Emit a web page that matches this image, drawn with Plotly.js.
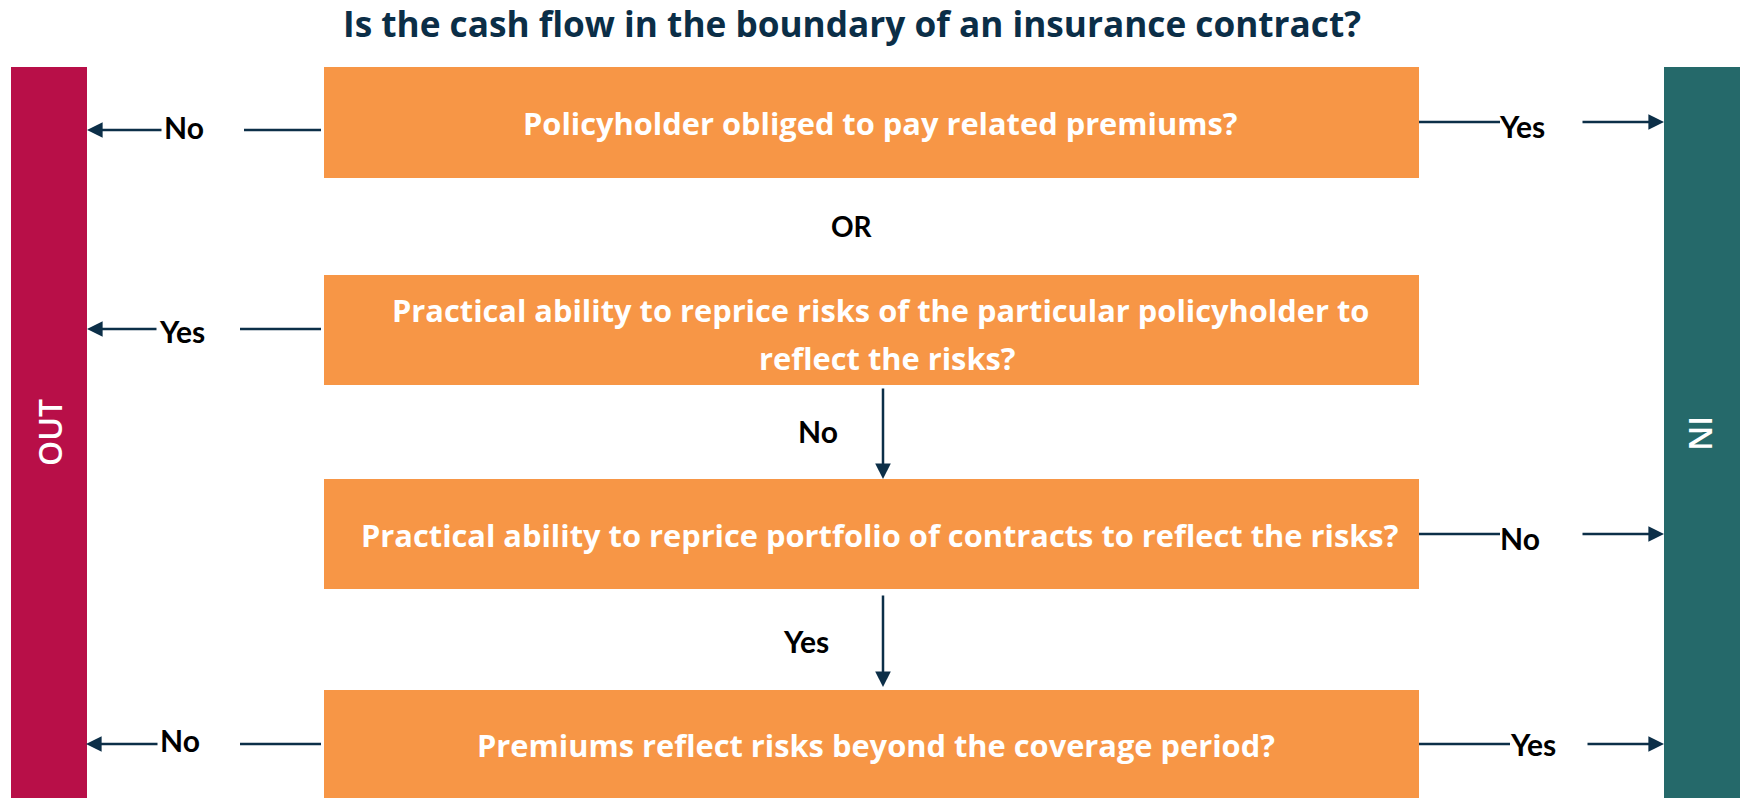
<!DOCTYPE html>
<html>
<head>
<meta charset="utf-8">
<script src="https://cdn.plot.ly/plotly-3.0.1.min.js"></script>
<style>
  html, body { margin: 0; padding: 0; background: #ffffff; }
  #chart { width: 1740px; height: 798px; }
</style>
</head>
<body>
<div id="chart"></div>
<script>
// ---- content ----
const chartTitle = "Is the cash flow in the boundary of an insurance contract?";
const questions = [
  "Policyholder obliged to pay related premiums?",
  "Practical ability to reprice risks of the particular policyholder to<br>reflect the risks?",
  "Practical ability to reprice portfolio of contracts to reflect the risks?",
  "Premiums reflect risks beyond the coverage period?"
];
const outcomes = ["OUT", "IN"];
const connectorWord = "OR";
// edge labels
const leftEdgeLabels = ["No", "Yes", "No"];      // box 1, box 2, box 4 -> OUT
const rightEdgeLabels = ["Yes", "No", "Yes"];    // box 1, box 3, box 4 -> IN
const downEdgeLabels = ["No", "Yes"];            // box 2 -> box 3, box 3 -> box 4

// ---- geometry (layout only) ----
const W = 1740, H = 798;
const C = { orange: "#F79646", out: "#B80F48", inn: "#25696A", arrow: "#0C2F48", title: "#0B2E47" };
const bars = [{ x0: 11, x1: 87 }, { x0: 1664, x1: 1740 }];
const barY = [67, 798];
const boxX = [324, 1419];
const boxY = [[67, 178], [275, 385], [479, 589], [690, 798]];
const boxTextX = [[880], [880, 887], [879], [876]];
const boxTextY = [[123], [310, 358], [535], [745]];
const leftGeo = [
  { y: 130, lineFrom: 321, lineTo: 244, arrowFrom: 163, arrowTo: 87, lx: 184, ly: 127 },
  { y: 329, lineFrom: 321, lineTo: 240, arrowFrom: 158, arrowTo: 87, lx: 182, ly: 331 },
  { y: 744, lineFrom: 321, lineTo: 240, arrowFrom: 159, arrowTo: 86, lx: 180, ly: 740 }
];
const rightGeo = [
  { y: 122, lineFrom: 1419, lineTo: 1500, arrowFrom: 1581, arrowTo: 1664, lx: 1522, ly: 126 },
  { y: 534, lineFrom: 1419, lineTo: 1500, arrowFrom: 1581, arrowTo: 1664, lx: 1520, ly: 538 },
  { y: 744, lineFrom: 1419, lineTo: 1510, arrowFrom: 1586, arrowTo: 1664, lx: 1533, ly: 744 }
];
const downGeo = [
  { x: 883, from: 387, to: 479, lx: 818, ly: 431 },
  { x: 883, from: 594, to: 687, lx: 806, ly: 641 }
];

const FONT_LABEL = "Lato, 'Open Sans', sans-serif";
const FONT_BOX = "'Open Sans', Lato, sans-serif";
const shapes = [];
const annotations = [];

// OUT / IN bars
bars.forEach((b, i) => {
  shapes.push({ type: "rect", xref: "x", yref: "y", x0: b.x0, x1: b.x1, y0: barY[0], y1: barY[1],
    fillcolor: i === 0 ? C.out : C.inn, line: { width: 0 }, layer: "below" });
  annotations.push({ xref: "x", yref: "y", x: (b.x0 + b.x1) / 2, y: 433, text: outcomes[i],
    showarrow: false, textangle: i === 0 ? -90 : 90,
    font: { family: "'Open Sans', sans-serif", size: 32, color: "#ffffff", weight: 600 },
    xanchor: "center", yanchor: "middle" });
});

// question boxes
questions.forEach((q, i) => {
  shapes.push({ type: "rect", xref: "x", yref: "y", x0: boxX[0], x1: boxX[1], y0: boxY[i][0], y1: boxY[i][1],
    fillcolor: C.orange, line: { width: 0 }, layer: "below" });
  const lines = q.split("<br>");
  lines.forEach((ln, k) => {
    annotations.push({ xref: "x", yref: "y", x: boxTextX[i][k], y: boxTextY[i][k], text: ln,
      showarrow: false, font: { family: FONT_BOX, size: 30.8, color: "#ffffff", weight: 700 },
      xanchor: "center", yanchor: "middle" });
  });
});

// OR connector
annotations.push({ xref: "x", yref: "y", x: 852, y: 226, text: connectorWord, showarrow: false,
  font: { family: FONT_LABEL, size: 28, color: "#000000", weight: 700 }, xanchor: "center", yanchor: "middle" });

function labelAnn(text, x, y) {
  return { xref: "x", yref: "y", x: x, y: y, text: text, showarrow: false,
    font: { family: FONT_LABEL, size: 30, color: "#000000", weight: 700 }, xanchor: "center", yanchor: "middle" };
}
function arrowAnn(x0, y0, x1, y1) {
  return { xref: "x", yref: "y", axref: "x", ayref: "y", x: x1, y: y1, ax: x0, ay: y0, text: "",
    showarrow: true, arrowhead: 2, arrowsize: 1.25, arrowwidth: 2.5, arrowcolor: C.arrow, standoff: 0, startstandoff: 0 };
}
function lineShape(x0, y0, x1, y1) {
  return { type: "line", xref: "x", yref: "y", x0: x0, y0: y0, x1: x1, y1: y1, line: { color: C.arrow, width: 2.5 } };
}

leftGeo.forEach((g, i) => {
  shapes.push(lineShape(g.lineFrom, g.y, g.lineTo, g.y));
  annotations.push(arrowAnn(g.arrowFrom, g.y, g.arrowTo, g.y));
  annotations.push(labelAnn(leftEdgeLabels[i], g.lx, g.ly));
});
rightGeo.forEach((g, i) => {
  shapes.push(lineShape(g.lineFrom, g.y, g.lineTo, g.y));
  annotations.push(arrowAnn(g.arrowFrom, g.y, g.arrowTo, g.y));
  annotations.push(labelAnn(rightEdgeLabels[i], g.lx, g.ly));
});
downGeo.forEach((g, i) => {
  annotations.push(arrowAnn(g.x, g.from, g.x, g.to));
  annotations.push(labelAnn(downEdgeLabels[i], g.lx, g.ly));
});

const layout = {
  width: W, height: H,
  margin: { l: 0, r: 0, t: 0, b: 0, pad: 0 },
  paper_bgcolor: "#ffffff", plot_bgcolor: "#ffffff",
  showlegend: false,
  title: { text: chartTitle, x: 852 / W, xanchor: "center", xref: "paper", y: 1 - 25 / H, yanchor: "middle", yref: "paper",
    font: { family: FONT_BOX, size: 35.2, color: C.title, weight: 700 } },
  xaxis: { range: [0, W], visible: false, fixedrange: true },
  yaxis: { range: [H, 0], visible: false, fixedrange: true },
  shapes: shapes,
  annotations: annotations
};

Plotly.newPlot("chart", [{ x: [], y: [], type: "scatter", mode: "markers", hoverinfo: "skip" }], layout,
  { displayModeBar: false, staticPlot: true });
</script>
</body>
</html>
